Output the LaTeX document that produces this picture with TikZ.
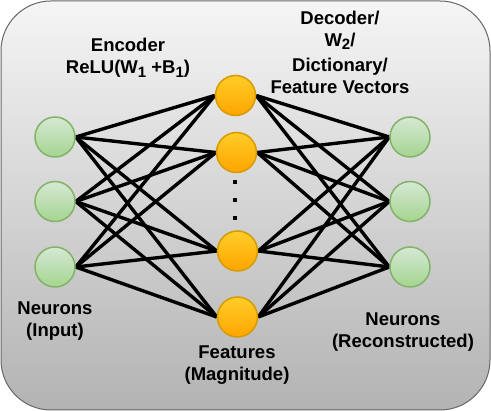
\documentclass[tikz,border=0pt]{standalone}
\usepackage{fontspec}
\setmainfont{Liberation Sans}
\usetikzlibrary{backgrounds}
\definecolor{gtop}{HTML}{D5E8D4}
\definecolor{gbot}{HTML}{A4D590}
\definecolor{gstroke}{HTML}{82B366}
\definecolor{otop}{HTML}{FFCD28}
\definecolor{obot}{HTML}{FFA500}
\definecolor{ostroke}{HTML}{D79B00}
\definecolor{bgtop}{HTML}{F5F5F5}
\definecolor{bgbot}{HTML}{B3B3B3}
\definecolor{bgstroke}{HTML}{666666}
\begin{document}
\begin{tikzpicture}[x=1pt,y=-1pt,
  neuron/.style={circle,draw=gstroke,top color=gtop,bottom color=gbot,line width=1.5pt,minimum size=40pt,inner sep=0pt},
  feat/.style={circle,draw=ostroke,top color=otop,bottom color=obot,line width=1.5pt,minimum size=40pt,inner sep=0pt},
  edge/.style={black,line width=3.4pt},
  dotbox/.style={rectangle,fill=black,minimum size=3.6pt,inner sep=0pt},
  lbl/.style={align=center,font=\fontsize{18.5}{22}\selectfont\bfseries,inner sep=0pt}
]
\useasboundingbox (0,0) rectangle (491,411);
\begin{scope}[on background layer]
\shade[top color=bgtop,bottom color=bgbot,draw=bgstroke,line width=1pt,rounded corners=50pt] (1,1) rectangle (490,410);
\end{scope}
\node[neuron] (i1) at (55,137) {};
\node[neuron] (i2) at (55,201.5) {};
\node[neuron] (i3) at (55,267) {};
\node[feat] (m1) at (235.5,95.5) {};
\node[feat] (m2) at (236.5,152.5) {};
\node[feat] (m3) at (237.5,251) {};
\node[feat] (m4) at (237.5,317) {};
\node[neuron] (o1) at (410,137) {};
\node[neuron] (o2) at (410,201.5) {};
\node[neuron] (o3) at (410,267) {};
\node[dotbox] (d1) at (235,182) {};
\node[dotbox] (d2) at (235,200) {};
\node[dotbox] (d3) at (235,218) {};
\begin{scope}[on background layer]
\foreach \i in {1,2,3}{
  \foreach \m in {1,2,3,4}{
    \draw[edge] (i\i.east) -- (m\m.west);
    \draw[edge] (m\m.east) -- (o\i.west);
  }
}
\end{scope}
\node[lbl] (enc) at (128,58) {Encoder\\ReLU(W\raisebox{-0.35ex}{\fontsize{15}{15}\selectfont 1} +B\raisebox{-0.35ex}{\fontsize{15}{15}\selectfont 1})};
\node[lbl] (dec) at (340,52) {Decoder/\\W\raisebox{-0.35ex}{\fontsize{15}{15}\selectfont 2}/\\[3pt]Dictionary/\\Feature Vectors};
\node[lbl] (nin) at (55,321) {Neurons\\(Input)};
\node[lbl] (fm) at (237,365) {Features\\(Magnitude)};
\node[lbl] (nout) at (403,332) {Neurons\\(Reconstructed)};
\end{tikzpicture}
\end{document}
